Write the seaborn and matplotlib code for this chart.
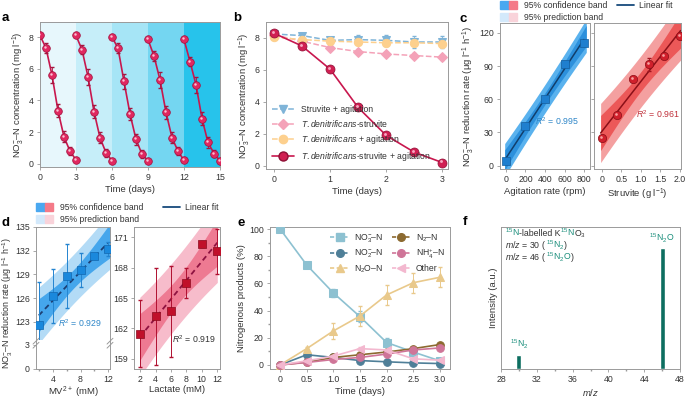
import numpy as np
import matplotlib.pyplot as plt
import matplotlib.transforms as mtransforms
from matplotlib.patches import Patch
from matplotlib.lines import Line2D
from matplotlib.legend_handler import HandlerTuple
import seaborn as sns

sns.set_theme(style="ticks")
plt.rcParams["font.family"] = ["Liberation Sans", "DejaVu Sans"]
plt.rcParams.update({
    "mathtext.fontset": "custom",
    "mathtext.rm": "Liberation Sans",
    "mathtext.it": "Liberation Sans:italic",
    "mathtext.bf": "Liberation Sans:bold",
    "mathtext.default": "regular",
    "axes.edgecolor": "#9a9a9a",
    "axes.linewidth": 0.7,
    "xtick.color": "#9a9a9a",
    "ytick.color": "#9a9a9a",
    "xtick.labelcolor": "#333333",
    "ytick.labelcolor": "#333333",
    "xtick.major.size": 2.5,
    "ytick.major.size": 2.5,
    "xtick.minor.size": 1.5,
    "ytick.minor.size": 1.5,
    "xtick.major.width": 0.6,
    "ytick.major.width": 0.6,
    "xtick.labelsize": 6.3,
    "ytick.labelsize": 6.3,
    "axes.labelsize": 6.8,
    "axes.labelcolor": "#333333",
    "axes.labelpad": 2,
    "xtick.major.pad": 2,
    "ytick.major.pad": 2,
})

## data --------------------------------------------------------------
# a: five repeated 3-day cycles
a_time = [0, 0.5, 1, 1.5, 2, 2.5, 3]
a_cycles = [
    [8.1, 7.3, 5.6, 3.35, 1.7, 0.8, 0.25],
    [8.1, 7.2, 5.5, 3.3, 1.65, 0.7, 0.2],
    [8.0, 7.3, 5.2, 3.15, 1.55, 0.6, 0.2],
    [7.85, 6.8, 5.3, 3.25, 1.65, 0.8, 0.22],
    [7.85, 6.45, 5.0, 2.85, 1.35, 0.65, 0.2],
]
a_err = [0.1, 0.3, 0.5, 0.4, 0.35, 0.25, 0.1]
a_bands = ["#e7f7fc", "#c6eef9", "#a6e5f6", "#74d6f1", "#27c3eb"]

# b
b_time = [0, 0.5, 1, 1.5, 2, 2.5, 3]
b_struvite_agit = [8.25, 8.15, 7.85, 7.9, 7.85, 7.75, 7.75]
b_td_struvite = [8.2, 7.8, 7.4, 7.15, 7.0, 6.9, 6.8]
b_td_agit = [8.05, 7.9, 7.8, 7.75, 7.7, 7.7, 7.65]
b_td_struvite_agit = [8.3, 7.5, 6.05, 3.65, 1.9, 0.85, 0.2]
b_err_struvite_agit = [0.1, 0.15, 0.2, 0.3, 0.35, 0.35, 0.35]
b_err_small = [0.1, 0.15, 0.15, 0.15, 0.15, 0.15, 0.15]

# c
c_rpm = [0, 200, 400, 600, 800]
c_rpm_rate = [4.5, 35.5, 60, 92, 111]
c_rpm_err = [1, 1.5, 1.5, 2.5, 2]
c_struv = [0, 0.4, 0.8, 1.2, 1.6, 2.0]
c_struv_rate = [25, 46, 78, 91.5, 99, 117]
c_struv_err = [1.5, 1.5, 2, 6, 1.5, 1.5]

# d
d_mv = [2, 4, 6, 8, 10, 12]
d_mv_rate = [122.6, 126.3, 128.8, 129.5, 131.3, 132.2]
d_mv_err = [5.5, 3.4, 4.05, 2.15, 0.3, 0.85]
d_lac = [2, 4, 6, 8, 10, 12]
d_lac_rate = [161.5, 163.2, 163.7, 166.5, 170.3, 169.6]
d_lac_err = [3.3, 4.8, 4.5, 1.5, 0.3, 2.2]

# e
e_time = [0, 0.5, 1.0, 1.5, 2.0, 2.5, 3.0]
e_xticklabels = ["0", "0.5", "1.0", "1.5", "2.0", "2.5", "3.0"]
e_no3 = [100, 73.5, 53, 35.5, 16.5, 9.5, 3]
e_no3_err = [0.5, 2, 3, 4, 3.5, 2, 1]
e_no2 = [0, 7.5, 5.5, 3.2, 2.3, 1.5, 1.0]
e_n2o = [0, 12, 25, 36, 51.5, 60.5, 64.5]
e_n2o_err = [0.5, 1, 6, 7.5, 7.5, 7.5, 7.5]
e_n2 = [0, 2, 5.5, 7.5, 9.5, 12, 15]
e_nh4 = [0, 1.8, 4, 5.5, 8, 11, 12.5]
e_other = [0, 3, 6.5, 12, 11, 4.5, 3.5]
e_small_err = [0.5, 1, 1, 1, 1, 1, 1]

# f
f_mz = [30, 46]
f_intensity = [0.10, 0.85]

W, H = 685, 399
FS = 6.3
fig = plt.figure(figsize=(6.85, 3.99), dpi=100)


def px_axes(l, t, r, b):
    return fig.add_axes([l / W, 1 - b / H, (r - l) / W, (b - t) / H])


def spheres(ax, x, y, face, edge, hl, ms=5.5, zorder=4):
    ax.plot(x, y, "o", ms=ms, mfc=face, mec=edge, mew=0.5, ls="none", zorder=zorder)
    tr = mtransforms.offset_copy(ax.transData, fig=fig, x=-ms * 0.13, y=ms * 0.13, units="points")
    ax.plot(x, y, "o", ms=ms * 0.32, color=hl, mec="none", ls="none", transform=tr, zorder=zorder + 0.1)


def fit_bands(x, y, xs, t):
    x = np.asarray(x, float)
    y = np.asarray(y, float)
    b, a = np.polyfit(x, y, 1)
    n = len(x)
    s = np.sqrt(np.sum((y - (a + b * x)) ** 2) / (n - 2))
    sxx = np.sum((x - x.mean()) ** 2)
    yhat = a + b * xs
    ci = t * s * np.sqrt(1 / n + (xs - x.mean()) ** 2 / sxx)
    pi = t * s * np.sqrt(1 + 1 / n + (xs - x.mean()) ** 2 / sxx)
    return yhat, ci, pi


CRIMSON = "#c8174e"
NO3_LABEL = "NO$_3^{-}$–N"

## a ------------------------------------------------------------------
ax = px_axes(40, 22, 220, 167)
for i, vals in enumerate(a_cycles):
    ax.axvspan(3 * i, 3 * i + 3, color=a_bands[i], lw=0, zorder=0)
    x = [3 * i + t for t in a_time]
    sns.lineplot(x=x, y=vals, ax=ax, color=CRIMSON, lw=1.2, zorder=2)
    ax.errorbar(x, vals, yerr=a_err, fmt="none", ecolor="#a5163f", elinewidth=0.6, capsize=1.5, zorder=3)
    spheres(ax, x, vals, "#e02860", "#a0103c", "#fbc0d2", ms=5.5)
ax.set_xlim(0, 15)
ax.set_ylim(-0.2, 8.95)
ax.set_xticks([0, 3, 6, 9, 12, 15])
ax.set_yticks([0, 2, 4, 6, 8])
ax.set_xlabel("Time (days)")
ax.set_ylabel(NO3_LABEL + " concentration (mg l$^{-1}$)")

## b ------------------------------------------------------------------
ax = px_axes(266, 22, 448, 169)
series_b = [
    (b_struvite_agit, b_err_struvite_agit, "Struvite + agitation", "#7fb4d8", "v"),
    (b_td_struvite, b_err_small, r"$\mathit{T.denitrificans}$-struvite", "#f4a2b8", "D"),
    (b_td_agit, b_err_small, r"$\mathit{T.denitrificans}$ + agitation", "#fdd08e", "o"),
]
handles = []
for vals, err, lab, col, mk in series_b:
    ms = 5 if mk == "D" else 6
    ax.errorbar(b_time, vals, yerr=err, fmt="none", ecolor=col, elinewidth=0.6, capsize=1.5, zorder=2)
    sns.lineplot(x=b_time, y=vals, ax=ax, color=col, lw=1.1, linestyle="--", marker=mk,
                 markersize=ms, markeredgecolor=col, zorder=3)
    handles.append(Line2D([], [], color=col, lw=1.1, ls="--", marker=mk, ms=ms, mec=col))
sns.lineplot(x=b_time, y=b_td_struvite_agit, ax=ax, color=CRIMSON, lw=1.2, zorder=4)
spheres(ax, b_time, b_td_struvite_agit, "#d01f52", "#8e0f35", "#f7a8c0", ms=6.5, zorder=5)
handles.append(Line2D([], [], color=CRIMSON, lw=1.2, marker="o", ms=6.5, mfc="#d01f52", mec="#8e0f35"))
labels = [s[2] for s in series_b] + [r"$\mathit{T.denitrificans}$-struvite + agitation"]
ax.legend(handles, labels, loc="lower left", frameon=False, fontsize=6.2, handlelength=2.6,
          labelspacing=0.45, borderaxespad=0.3, labelcolor="#333333")
ax.set_xlim(-0.14, 3.1)
ax.set_ylim(-0.2, 9.0)
ax.set_xticks([0, 1, 2, 3])
ax.set_yticks([0, 2, 4, 6, 8])
ax.set_xlabel("Time (days)")
ax.set_ylabel(NO3_LABEL + " concentration (mg l$^{-1}$)")

## c ------------------------------------------------------------------
ax1 = px_axes(500, 23, 590, 169)
ax2 = px_axes(594, 23, 681, 169)
xs = np.linspace(-12, 822, 100)
yh, ci, pi = fit_bands(c_rpm, c_rpm_rate, xs, 3.182)
ax1.fill_between(xs, yh - pi, yh + pi, color="#5ab2ee", lw=0, zorder=1)
ax1.fill_between(xs, yh - ci, yh + ci, color="#2c90dc", lw=0, zorder=2)
inside = (xs >= 0) & (xs <= 800)
ax1.plot(xs[inside], yh[inside], color="#123e6b", lw=1.1, zorder=3)
ax1.errorbar(c_rpm, c_rpm_rate, yerr=c_rpm_err, fmt="none", ecolor="#1a6fb8", elinewidth=0.6, capsize=1.5, zorder=4)
sns.scatterplot(x=c_rpm, y=c_rpm_rate, ax=ax1, marker="s", s=30, color="#1f7fcf", edgecolor="#145e9e",
                linewidth=0.5, zorder=5)
ax1.text(300, 37, r"$\mathit{R}^2$ = 0.995", color="#2e86c8", fontsize=FS)
ax1.set_xlim(-60, 860)
ax1.set_ylim(-3, 129)
ax1.set_xticks([0, 200, 400, 600, 800])
ax1.set_yticks([0, 30, 60, 90, 120])
ax1.set_xlabel("Agitation rate (rpm)")
ax1.set_ylabel(NO3_LABEL + " reduction rate (μg l$^{-1}$ h$^{-1}$)")

xs = np.linspace(-0.03, 2.02, 100)
yh, ci, pi = fit_bands(c_struv, c_struv_rate, xs, 2.776)
ax2.fill_between(xs, yh - pi, yh + pi, color="#f4a0a0", lw=0, zorder=1)
ax2.fill_between(xs, yh - ci, yh + ci, color="#ec5858", lw=0, zorder=2)
ax2.plot(xs, yh, color="#8b1018", lw=1.1, zorder=3)
ax2.errorbar(c_struv, c_struv_rate, yerr=c_struv_err, fmt="none", ecolor="#a0141f", elinewidth=0.6, capsize=1.5, zorder=4)
spheres(ax2, c_struv, c_struv_rate, "#d0202c", "#8a0d16", "#f7a0a0", ms=6)
ax2.text(0.87, 43, r"$\mathit{R}^2$ = 0.961", color="#c0303a", fontsize=FS)
ax2.set_xlim(-0.2, 2.03)
ax2.set_ylim(-3, 129)
ax2.set_xticks([0, 0.5, 1.0, 1.5, 2.0])
ax2.set_xticklabels(["0", "0.5", "1.0", "1.5", "2.0"])
ax2.set_yticks([0, 30, 60, 90, 120])
ax2.set_yticklabels([])
ax2.set_xlabel("Struvite (g l$^{-1}$)")


def band_legends(x0, y0, x1):
    hmap = {tuple: HandlerTuple(ndivide=None, pad=0)}
    h = [(Patch(color="#4aa8f0"), Patch(color="#f47a88")),
         (Patch(color="#d3e9fb"), Patch(color="#f9d3da"))]
    fig.legend(h, ["95% confidence band", "95% prediction band"], handler_map=hmap,
               loc="upper left", bbox_to_anchor=(x0 / W, 1 - y0 / H), frameon=False, fontsize=6.2,
               handlelength=2.0, handleheight=1.1, labelspacing=0.3, borderaxespad=0, borderpad=0,
               handletextpad=0.8, labelcolor="#333333")
    fig.legend([Line2D([], [], color="#174a7c", lw=1.3)], ["Linear fit"], loc="upper left",
               bbox_to_anchor=(x1 / W, 1 - y0 / H), frameon=False, fontsize=6.2, handlelength=2.0,
               borderaxespad=0, borderpad=0, handletextpad=0.6, labelcolor="#333333")


band_legends(500, 1, 617)

## d ------------------------------------------------------------------
axt = px_axes(36, 227, 110, 340)
axb = px_axes(36, 340, 110, 369)
xs = np.linspace(1.9, 12.4, 100)
yh, ci, pi = fit_bands(d_mv, d_mv_rate, xs, 2.776)
axt.fill_between(xs, yh - pi, yh + pi, color="#b3dbf6", lw=0, zorder=1)
axt.fill_between(xs, yh - ci, yh + ci, color="#45a6ec", lw=0, zorder=2)
axt.plot(xs[xs <= 12], yh[xs <= 12], color="#1d3f73", lw=1.3, ls=(0, (3, 2)), zorder=3)
axt.errorbar(d_mv, d_mv_rate, yerr=d_mv_err, fmt="none", ecolor="#2384d0", elinewidth=0.7, capsize=1.5, zorder=4)
sns.scatterplot(x=d_mv, y=d_mv_rate, ax=axt, marker="s", s=30, color="#1a88dc", edgecolor="#1268b0",
                linewidth=0.5, zorder=5)
axt.text(4.7, 122.3, r"$\mathit{R}^2$ = 0.929", color="#2e86c8", fontsize=FS)
for a_ in (axt, axb):
    a_.set_xlim(1.5, 12.3)
    a_.set_xticks([4, 8, 12])
    a_.set_xticks([2, 6, 10], minor=True)
axt.set_ylim(120.7, 135)
axt.set_yticks([123, 126, 129, 132, 135])
axt.spines["bottom"].set_visible(False)
axt.tick_params(axis="x", which="both", bottom=False, labelbottom=False)
axb.set_ylim(0, 3.6)
axb.set_yticks([0, 3])
axb.spines["top"].set_visible(False)
axb.set_xlabel("MV$^{2+}$ (mM)", labelpad=0.5)
for xx in (0, 1):
    axb.plot([xx - 0.04, xx + 0.04], [0.86, 1.06], transform=axb.transAxes, color="#9a9a9a", lw=0.7, clip_on=False)
    axb.plot([xx - 0.04, xx + 0.04], [0.72, 0.92], transform=axb.transAxes, color="#9a9a9a", lw=0.7, clip_on=False)
axt.set_ylabel(NO3_LABEL + " reduction rate (μg l$^{-1}$ h$^{-1}$)", fontsize=6.4)
axt.yaxis.set_label_coords(-0.29, 0.33)

ax = px_axes(134, 227, 220, 369)
xs = np.linspace(1.95, 12.05, 100)
yh, ci, pi = fit_bands(d_lac, d_lac_rate, xs, 2.776)
ax.fill_between(xs, yh - pi, yh + pi, color="#f7bccb", lw=0, zorder=1)
ax.fill_between(xs, yh - ci, yh + ci, color="#ee7a92", lw=0, zorder=2)
ax.plot(xs, yh, color="#8e1240", lw=1.3, ls=(0, (3, 2)), zorder=3)
ax.errorbar(d_lac, d_lac_rate, yerr=d_lac_err, fmt="none", ecolor="#b01030", elinewidth=0.7, capsize=1.5, zorder=4)
sns.scatterplot(x=d_lac, y=d_lac_rate, ax=ax, marker="s", s=32, color="#c0102a", edgecolor="#8a0a1e",
                linewidth=0.5, zorder=5)
ax.text(6.1, 160.6, r"$\mathit{R}^2$ = 0.919", color="#333333", fontsize=FS)
ax.set_xlim(1.2, 12.4)
ax.set_ylim(158, 172)
ax.set_xticks([2, 4, 6, 8, 10, 12])
ax.set_yticks([159, 162, 165, 168, 171])
ax.set_xlabel("Lactate (mM)", labelpad=0.5)

band_legends(36, 203, 163)

## e ------------------------------------------------------------------
ax = px_axes(270, 227, 450, 369)
series_e = [
    (e_no3, NO3_LABEL, "#8dc1d1", "s", e_no3_err),
    (e_no2, "NO$_2^{-}$–N", "#4f7f98", "o", e_small_err),
    (e_n2o, "N$_2$O–N", "#e9c98b", "^", e_n2o_err),
    (e_n2, "N$_2$–N", "#8c6a30", "o", e_small_err),
    (e_nh4, "NH$_4^{+}$–N", "#cf7598", "o", e_small_err),
    (e_other, "Other", "#f3b8cf", "<", e_small_err),
]
handles = []
for vals, lab, col, mk, err in series_e:
    ax.errorbar(e_time, vals, yerr=err, fmt="none", ecolor=col, elinewidth=0.7, capsize=1.5, zorder=2)
    sns.lineplot(x=e_time, y=vals, ax=ax, color=col, lw=1.2, marker=mk, markersize=5.5,
                 markeredgecolor=col, zorder=3)
    handles.append(Line2D([], [], color=col, lw=1.2, marker=mk, ms=5.5, mec=col, ls=(0, (2.5, 1.5))))
ax.legend(handles, [s[1] for s in series_e], loc="upper right", ncol=2, frameon=False, fontsize=6.2,
          handlelength=2.2, columnspacing=1.0, labelspacing=0.35, borderaxespad=0.2, handletextpad=0.6,
          labelcolor="#333333")
ax.set_xlim(-0.19, 3.19)
ax.set_ylim(-3, 101.5)
ax.set_xticks(e_time)
ax.set_xticklabels(e_xticklabels)
ax.set_yticks([0, 20, 40, 60, 80, 100])
ax.set_yticks([10, 30, 50, 70, 90], minor=True)
ax.set_xlabel("Time (days)")
ax.set_ylabel("Nitrogenous products (%)")

## f ------------------------------------------------------------------
ax = px_axes(501, 227, 680, 369)
TEAL = "#0d6e60"
TEAL_TXT = "#1b8f7c"
ax.bar(f_mz, f_intensity, width=0.55, color=TEAL, zorder=2)
ax.set_xlim(28, 48)
ax.set_ylim(0, 1)
ax.set_xticks([28, 32, 36, 40, 44, 48])
ax.set_xticks([30, 34, 38, 42, 46], minor=True)
ax.set_yticks([])
ax.set_xlabel(r"$\mathit{m/z}$")
ax.set_ylabel("Intensity (a.u.)")
ax.text(f_mz[0], f_intensity[0] + 0.03, "$^{15}$N$_2$", color=TEAL_TXT, fontsize=FS, ha="center", va="bottom")
ax.text(f_mz[1], f_intensity[1] + 0.02, "$^{15}$N$_2$O", color=TEAL_TXT, fontsize=FS, ha="center", va="bottom")

renderer = fig.canvas.get_renderer()


def colored_line(ax, x, y, pieces, fs=FS):
    tr = ax.transAxes
    for s, c in pieces:
        t = ax.text(x, y, s, color=c, fontsize=fs, transform=tr, va="baseline", ha="left")
        bb = t.get_window_extent(renderer=renderer)
        x = tr.inverted().transform((bb.x1 - 0.8, bb.y0))[0]


GREY = "#333333"
colored_line(ax, 0.025, 0.935, [("$^{15}$N", TEAL_TXT), ("-labelled K", GREY), ("$^{15}$N", TEAL_TXT), ("O$_3$", GREY)])
colored_line(ax, 0.025, 0.85, [(r"$\mathit{m/z}$ = 30 (", GREY), ("$^{15}$N$_2$", TEAL_TXT), (")", GREY)])
colored_line(ax, 0.025, 0.765, [(r"$\mathit{m/z}$ = 46 (", GREY), ("$^{15}$N$_2$O", TEAL_TXT), (")", GREY)])

## panel letters -------------------------------------------------------
for letter, x, y in [("a", 2, 21), ("b", 233, 21), ("c", 460, 22),
                     ("d", 2, 226), ("e", 237, 226), ("f", 463, 225)]:
    fig.text(x / W, 1 - y / H, letter, fontsize=9.5, fontweight="bold", color="black", va="baseline")

fig.savefig("out.png", dpi=100)
